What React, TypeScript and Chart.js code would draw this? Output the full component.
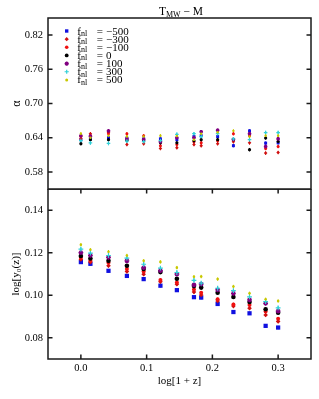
import React, { useEffect, useRef } from 'react';
import { Chart, registerables } from 'chart.js';
import { drawPoint } from 'chart.js/helpers';

Chart.register(...registerables);

// ---------- data ----------
const xVals = [0.0, 0.0145, 0.042, 0.07, 0.0955, 0.121, 0.146, 0.172, 0.183, 0.208, 0.232, 0.2565, 0.281, 0.3];
const fnlLabels = ['−500', '−300', '−100', '0', '100', '300', '500'];

// alpha (top panel)
const alphaM500 = [0.6365, 0.638, 0.640, 0.639, 0.638, 0.638, 0.6365, 0.642, 0.6435, 0.642, 0.626, 0.652, 0.6305, 0.631];
const alphaM300 = [0.638, 0.647, 0.649, 0.628, 0.6295, 0.621, 0.6225, 0.628, 0.626, 0.6295, 0.633, 0.631, 0.613, 0.614];
const alphaM100 = [0.642, 0.644, 0.647, 0.647, 0.6435, 0.626, 0.628, 0.633, 0.631, 0.6345, 0.647, 0.6435, 0.621, 0.6245];
const alphaP0 = [0.6295, 0.6365, 0.6365, 0.6355, 0.6345, 0.631, 0.631, 0.6345, 0.6365, 0.6365, 0.6365, 0.619, 0.6395, 0.6335];
const alphaP100 = [0.6435, 0.6425, 0.652, 0.638, 0.637, 0.633, 0.640, 0.640, 0.6505, 0.653, 0.637, 0.647, 0.6245, 0.638];
const alphaP300 = [0.635, 0.631, 0.630, 0.634, 0.633, 0.635, 0.646, 0.647, 0.642, 0.647, 0.638, 0.6365, 0.649, 0.649];
const alphaP500 = [0.647, 0.640, 0.6435, 0.642, 0.642, 0.6435, 0.643, 0.6365, 0.647, 0.6495, 0.652, 0.642, 0.6435, 0.6435];

// log y0 (bottom panel)
const logyM500 = [0.1156, 0.1148, 0.1115, 0.1091, 0.1076, 0.1045, 0.1024, 0.0991, 0.0989, 0.0959, 0.0921, 0.0915, 0.0856, 0.0848];
const logyM300 = [0.1168, 0.1156, 0.1139, 0.1112, 0.1099, 0.1064, 0.1052, 0.1015, 0.1001, 0.0973, 0.0949, 0.0939, 0.0907, 0.0877];
const logyM100 = [0.1176, 0.1162, 0.1153, 0.1123, 0.1112, 0.1072, 0.1060, 0.1027, 0.1012, 0.0981, 0.0957, 0.0954, 0.0923, 0.0889];
const logyP0 = [0.1185, 0.1173, 0.1162, 0.1139, 0.1124, 0.1109, 0.1078, 0.1043, 0.1036, 0.1012, 0.0992, 0.0968, 0.0934, 0.0918];
const logyP100 = [0.1201, 0.1188, 0.1178, 0.1162, 0.1130, 0.1116, 0.1099, 0.1049, 0.1052, 0.1025, 0.1009, 0.0978, 0.0962, 0.0925];
const logyP300 = [0.1217, 0.1198, 0.1187, 0.1175, 0.1146, 0.1128, 0.1107, 0.1070, 0.1057, 0.1033, 0.1022, 0.0992, 0.0970, 0.0941];
const logyP500 = [0.1238, 0.1214, 0.1205, 0.1187, 0.1162, 0.1157, 0.1130, 0.1087, 0.1088, 0.1076, 0.1041, 0.1009, 0.0981, 0.0973];

const alphaErr = 0.003;
const logyErr = 0.0008;

const alphaTicks = [0.58, 0.64, 0.70, 0.76, 0.82];
const logyTicks = [0.08, 0.10, 0.12, 0.14];
const xTicks = [0.0, 0.1, 0.2, 0.3];

const alphaSeries = [alphaM500, alphaM300, alphaM100, alphaP0, alphaP100, alphaP300, alphaP500];
const logySeries = [logyM500, logyM300, logyM100, logyP0, logyP100, logyP300, logyP500];

// ---------- styles ----------
const styles = [
  { color: '#1010e0', pointStyle: 'rect', rTop: 2.1, rBot: 3.0, bw: 0 },
  { color: '#d01010', pointStyle: 'rectRot', rTop: 1.8, rBot: 2.3, bw: 0 },
  { color: '#f01010', pointStyle: 'circle', rTop: 1.5, rBot: 2.0, bw: 0 },
  { color: '#000000', pointStyle: 'circle', rTop: 1.6, rBot: 2.3, bw: 0 },
  { color: '#800080', pointStyle: 'star', rTop: 1.8, rBot: 2.4, bw: 1.3 },
  { color: '#30d0d8', pointStyle: 'cross', rTop: 1.8, rBot: 2.4, bw: 1.2 },
  { color: '#c8c800', pointStyle: 'circle', rTop: 1.2, rBot: 1.3, bw: 0 },
];

const SERIF = '"Liberation Serif", "DejaVu Serif", serif';
const TXT = '#000000';
const WEIGHT = 'normal';

function makeDatasets(series: number[][], top: boolean, err: number) {
  return series.map((vals, i) => {
    const st = styles[i];
    return {
      label: 'fnl = ' + fnlLabels[i],
      data: xVals.map((x, j) => ({ x, y: vals[j] })),
      pointStyle: st.pointStyle,
      pointRadius: top ? st.rTop : st.rBot,
      backgroundColor: st.color,
      borderColor: st.color,
      borderWidth: st.bw,
      showLine: false,
      order: 6 - i,
      err,
    } as any;
  });
}

const errorBarPlugin = {
  id: 'errbars',
  beforeDatasetsDraw(chart: any) {
    const ctx = chart.ctx;
    const ys = chart.scales.y;
    chart.data.datasets.forEach((ds: any, i: number) => {
      const meta = chart.getDatasetMeta(i);
      ctx.save();
      ctx.strokeStyle = ds.borderColor;
      ctx.lineWidth = 1;
      meta.data.forEach((pt: any, j: number) => {
        const v = ds.data[j].y;
        ctx.beginPath();
        ctx.moveTo(pt.x, ys.getPixelForValue(v - ds.err));
        ctx.lineTo(pt.x, ys.getPixelForValue(v + ds.err));
        ctx.stroke();
      });
      ctx.restore();
    });
  },
};

function framePlugin(yTickVals: number[], xTickVals: number[] | null) {
  return {
    id: 'frame',
    afterDraw(chart: any) {
      const { ctx, chartArea: a } = chart;
      const ys = chart.scales.y;
      const xs = chart.scales.x;
      ctx.save();
      ctx.strokeStyle = '#1a1a1a';
      ctx.lineWidth = 1.5;
      ctx.strokeRect(a.left, a.top, a.right - a.left, a.bottom - a.top);
      const tl = 4.5;
      ctx.beginPath();
      yTickVals.forEach((v) => {
        const y = ys.getPixelForValue(v);
        ctx.moveTo(a.left, y);
        ctx.lineTo(a.left + tl, y);
        ctx.moveTo(a.right, y);
        ctx.lineTo(a.right - tl, y);
      });
      if (xTickVals) {
        xTickVals.forEach((v) => {
          const x = xs.getPixelForValue(v);
          ctx.moveTo(x, a.bottom);
          ctx.lineTo(x, a.bottom - tl);
          ctx.moveTo(x, a.top);
          ctx.lineTo(x, a.top + tl);
        });
      }
      ctx.stroke();
      ctx.restore();
    },
  };
}

type Part = { t: string; size: number; dy?: number };

function drawParts(ctx: CanvasRenderingContext2D, parts: Part[], x: number, y: number) {
  let cx = x;
  parts.forEach((p) => {
    ctx.font = `${WEIGHT} ${p.size}px ${SERIF}`;
    ctx.fillText(p.t, cx, y + (p.dy || 0));
    cx += ctx.measureText(p.t).width;
  });
  return cx;
}

function partsWidth(ctx: CanvasRenderingContext2D, parts: Part[]) {
  let w = 0;
  parts.forEach((p) => {
    ctx.font = `${WEIGHT} ${p.size}px ${SERIF}`;
    w += ctx.measureText(p.t).width;
  });
  return w;
}

const annotPlugin = {
  id: 'annot',
  afterDraw(chart: any) {
    const ctx = chart.ctx;
    const a = chart.chartArea;
    ctx.save();
    ctx.fillStyle = TXT;
    ctx.textBaseline = 'alphabetic';
    ctx.textAlign = 'left';
    // title
    const tparts: Part[] = [
      { t: 'T', size: 11.5 },
      { t: 'MW', size: 8, dy: 2.5 },
      { t: ' − M', size: 11.5 },
    ];
    const tw = partsWidth(ctx, tparts);
    drawParts(ctx, tparts, (a.left + a.right) / 2 + 1.5 - tw / 2, 14.5);
    // legend
    chart.data.datasets.forEach((ds: any, i: number) => {
      const cy = 31 + i * 8.15;
      ctx.save();
      ctx.fillStyle = ds.backgroundColor;
      ctx.strokeStyle = ds.borderColor;
      ctx.lineWidth = ds.borderWidth || 1;
      drawPoint(ctx, { pointStyle: ds.pointStyle, radius: ds.pointRadius + 0.3, rotation: 0, borderWidth: ds.borderWidth } as any, 66.7, cy);
      ctx.restore();
      ctx.fillStyle = TXT;
      const by = cy + 3.5;
      drawParts(ctx, [{ t: 'f', size: 11 }, { t: 'nl', size: 8, dy: 1.5 }], 77.3, by);
      ctx.font = `${WEIGHT} 11px ${SERIF}`;
      ctx.fillText('=', 96.7, by);
      ctx.fillText(fnlLabels[i], 106, by);
    });
    ctx.restore();
  },
};

const tickFont = { family: SERIF, size: 10.5, weight: WEIGHT };

const zeroYPad = (s: any) => {
  s.width = 48;
  s.paddingTop = 0;
  s.paddingBottom = 0;
};
const zeroXPad = (s: any) => {
  s.height = 40;
  s.paddingLeft = 0;
  s.paddingRight = 0;
};

export default function App() {
  const topRef = useRef<HTMLCanvasElement>(null);
  const botRef = useRef<HTMLCanvasElement>(null);

  useEffect(() => {
    const top = new Chart(topRef.current as HTMLCanvasElement, {
      type: 'scatter',
      data: { datasets: makeDatasets(alphaSeries, true, alphaErr) },
      options: {
        animation: false,
        responsive: false,
        layout: { autoPadding: false, padding: { top: 18, right: 8, bottom: 1, left: 0 } },
        plugins: { legend: { display: false }, tooltip: { enabled: false }, title: { display: false } },
        scales: {
          x: { type: 'linear', min: -0.05, max: 0.35, display: false },
          y: {
            type: 'linear',
            min: 0.55,
            max: 0.85,
            afterBuildTicks: (s: any) => { s.ticks = alphaTicks.map((v) => ({ value: v })); },
            afterFit: zeroYPad,
            ticks: { callback: (v: any) => Number(v).toFixed(2), font: tickFont, color: TXT, padding: 5 },
            grid: { display: false, drawTicks: false },
            border: { display: false },
            title: { display: true, text: 'α', font: { family: SERIF, size: 12, weight: WEIGHT }, color: TXT, padding: { top: 10, bottom: 0 } },
          },
        },
      } as any,
      plugins: [errorBarPlugin, framePlugin(alphaTicks, null), annotPlugin],
    });

    const bot = new Chart(botRef.current as HTMLCanvasElement, {
      type: 'scatter',
      data: { datasets: makeDatasets(logySeries, false, logyErr) },
      options: {
        animation: false,
        responsive: false,
        layout: { autoPadding: false, padding: { top: 0, right: 8, bottom: 0, left: 0 } },
        plugins: { legend: { display: false }, tooltip: { enabled: false } },
        scales: {
          x: {
            type: 'linear',
            min: -0.05,
            max: 0.35,
            afterBuildTicks: (s: any) => { s.ticks = xTicks.map((v) => ({ value: v })); },
            afterFit: zeroXPad,
            ticks: { callback: (v: any) => Number(v).toFixed(1), font: tickFont, color: TXT, padding: 3, maxRotation: 0 },
            grid: { display: false, drawTicks: false },
            border: { display: false },
            title: { display: true, text: 'log[1 + z]', font: { family: SERIF, size: 11, weight: WEIGHT }, color: TXT, padding: { top: 0, bottom: 11.5 } },
          },
          y: {
            type: 'linear',
            min: 0.07,
            max: 0.15,
            afterBuildTicks: (s: any) => { s.ticks = logyTicks.map((v) => ({ value: v })); },
            afterFit: zeroYPad,
            ticks: { callback: (v: any) => Number(v).toFixed(2), font: tickFont, color: TXT, padding: 5 },
            grid: { display: false, drawTicks: false },
            border: { display: false },
            title: { display: true, text: 'log[y₀(z)]', font: { family: SERIF, size: 11, weight: WEIGHT }, color: TXT, padding: { top: 10, bottom: 0 } },
          },
        },
      } as any,
      plugins: [errorBarPlugin, framePlugin(logyTicks, xTicks)],
    });

    return () => {
      top.destroy();
      bot.destroy();
    };
  }, []);

  return (
    <div style={{ position: 'absolute', left: 0, top: 0, width: 319, height: 399, background: '#fff' }}>
      <canvas ref={topRef} width={319} height={190} style={{ position: 'absolute', left: 0, top: 0, width: 319, height: 190 }} />
      <canvas ref={botRef} width={319} height={210} style={{ position: 'absolute', left: 0, top: 189, width: 319, height: 210 }} />
    </div>
  );
}
